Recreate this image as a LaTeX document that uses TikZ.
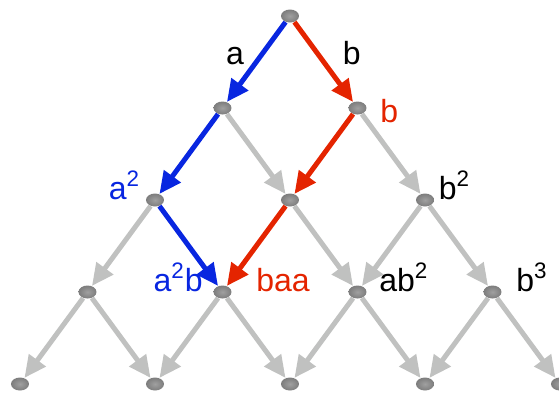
\documentclass[tikz,border=0pt]{standalone}
\usepackage{fontspec}
\setmainfont{Liberation Sans}
\usetikzlibrary{arrows.meta,positioning,shapes.geometric}
\definecolor{nodegray}{RGB}{125,125,125}
\definecolor{nodelight}{RGB}{160,160,160}
\definecolor{linkgray}{RGB}{192,193,192}
\definecolor{pathblue}{RGB}{8,38,224}
\definecolor{pathred}{RGB}{228,36,0}
\begin{document}
\begin{tikzpicture}[
  x=0.5pt, y=-0.5pt,
  vertex/.style={ellipse, inner sep=0pt, minimum width=9pt, minimum height=6.5pt,
    shade, inner color=nodelight, outer color=nodegray},
  link/.style={line width=2.5pt, draw=linkgray, -{Triangle[length=11pt,width=10pt]}},
  alink/.style={link, draw=pathblue},
  blink/.style={link, draw=pathred},
  word/.style={inner sep=0pt, font=\fontsize{16}{19}\selectfont}
]
  \useasboundingbox (0,0) rectangle (559,393);

  % lattice of words
  \foreach \i in {0,...,4}
    \foreach \j in {0,...,\i}
      \node[vertex] (n-\i-\j) at ({290+(2*\j-\i)*67.5}, {16+92*\i}) {};

  % grey links
  \foreach \s/\t in {1-0/2-1, 1-1/2-2, 2-0/3-0, 2-1/3-2, 2-2/3-2, 2-2/3-3,
                     3-0/4-0, 3-0/4-1, 3-1/4-1, 3-1/4-2, 3-2/4-2, 3-2/4-3,
                     3-3/4-3, 3-3/4-4}
    \draw[link] (n-\s) -- (n-\t);

  % a a b
  \draw[alink] (n-0-0) -- node[word, pos=0.43, left=7pt] (w-a) {a} (n-1-0);
  \draw[alink] (n-1-0) -- (n-2-0);
  \draw[alink] (n-2-0) -- (n-3-1);

  % b a a
  \draw[blink] (n-0-0) -- node[word, pos=0.39, right=11.5pt] (w-b) {b} (n-1-1);
  \draw[blink] (n-1-1) -- (n-2-1);
  \draw[blink] (n-2-1) -- (n-3-1);

  \node[word, text=pathred, right=6.5pt of n-1-1, yshift=-1.5pt] (w-b1) {b};
  \node[word, text=pathblue, above left=0pt and 2.5pt of n-2-0.west] (w-aa) {a\textsuperscript{2}};
  \node[word, above right=0pt and 2pt of n-2-2.east] (w-bb) {b\textsuperscript{2}};
  \node[word, text=pathblue, above left=0pt and 5pt of n-3-1.west] (w-aab) {a\textsuperscript{2}b};
  \node[word, text=pathred, above right=0pt and 12pt of n-3-1.east] (w-baa) {baa};
  \node[word, above right=0pt and 6pt of n-3-2.east] (w-abb) {ab\textsuperscript{2}};
  \node[word, above right=0pt and 7pt of n-3-3.east] (w-bbb) {b\textsuperscript{3}};
\end{tikzpicture}
\end{document}
